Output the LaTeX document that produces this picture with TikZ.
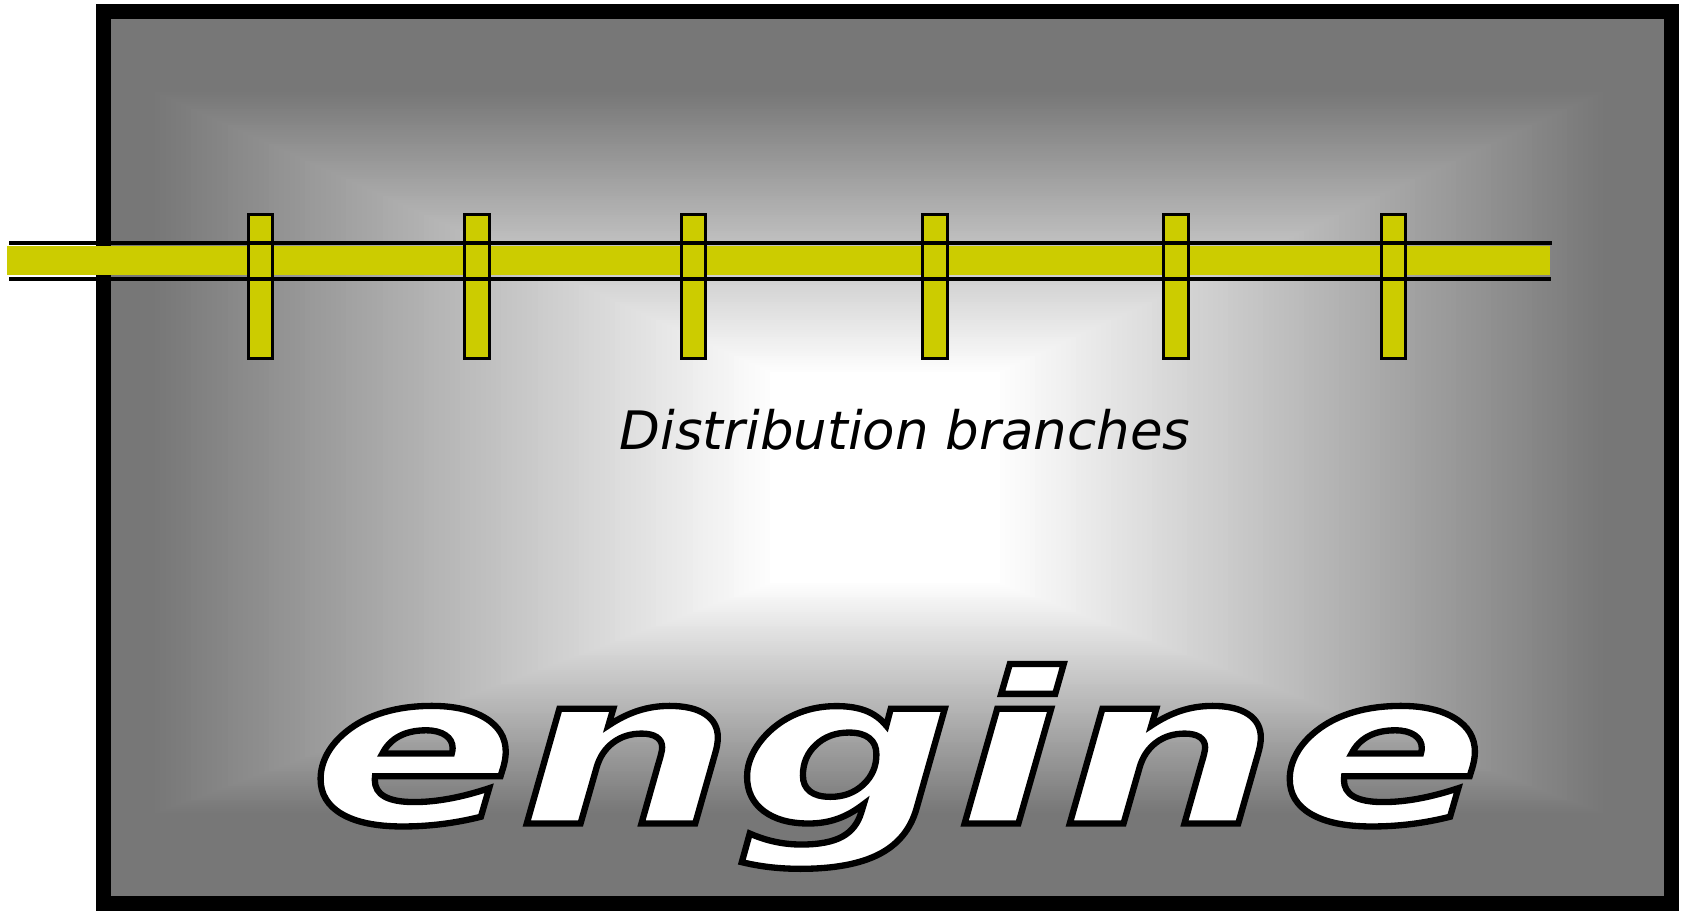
\documentclass[tikz,border=0pt]{standalone}
\usepackage{fontspec}
\newfontfamily\labelfont{DejaVu Sans Oblique}
\newfontfamily\enginefont[FakeStretch=1.46, FakeBold=3]{DejaVu Sans Bold Oblique}
\definecolor{pipeyellow}{RGB}{204,204,0}
\definecolor{edgegray}{RGB}{119,119,119}
\newcommand{\blackstroke}{\special{pdf:literal direct 0 G}}
\tikzset{
  frameline/.style={draw=black, line width=15},
  pipefill/.style={fill=pipeyellow},
  branchbox/.style={fill=pipeyellow, draw=black, line width=2.7},
  pipeline/.style={draw=black, line width=4},
  labeltext/.style={font=\labelfont\fontsize{53}{60}\selectfont, text=black, inner sep=0},
  enginetext/.style={font=\enginefont\fontsize{210}{220}\selectfont, text=white, inner sep=0},
}
\begin{document}
\begin{tikzpicture}[x=1pt,y=-1pt]
\useasboundingbox (0,0) rectangle (1681,911);
% rectangular gradient background: outer grey rectangle -> inner white rectangle
\def\oL{150}\def\oR{1608}\def\oT{90}\def\oB{815}
\def\iL{770}\def\iR{1000}\def\iT{372}\def\iB{583}
\fill[edgegray] (111,19) rectangle (1664,896);
\foreach \i in {120,119,...,0} {
  \pgfmathsetmacro{\t}{\i/120}
  \pgfmathtruncatemacro{\g}{255-136*\t}
  \definecolor{gtmp}{RGB}{\g,\g,\g}
  \fill[gtmp] ({\iL+\t*(\oL-\iL)},{\iT+\t*(\oT-\iT)}) rectangle ({\iR+\t*(\oR-\iR)},{\iB+\t*(\oB-\iB)});
}
% frame
\draw[frameline] (103.5,11.5) rectangle (1671.5,903.5);
% main pipe
\fill[pipefill] (7,246) rectangle (1550,275);
% branches
\foreach \c in {260.5,477,693.6,935,1176,1393.5} {
  \draw[branchbox] (\c-12.2,214.3) rectangle (\c+12.2,358.7);
}
% pipe walls
\draw[pipeline] (9,242.5) -- (1552,242.5);
\draw[pipeline] (9,279) -- (1551,279);
% labels
\node[labeltext, anchor=base] (label) at (905,449) {Distribution branches};
\node[enginetext, anchor=base] (engine) at (898,823.5) {\blackstroke engine};
\end{tikzpicture}
\end{document}
